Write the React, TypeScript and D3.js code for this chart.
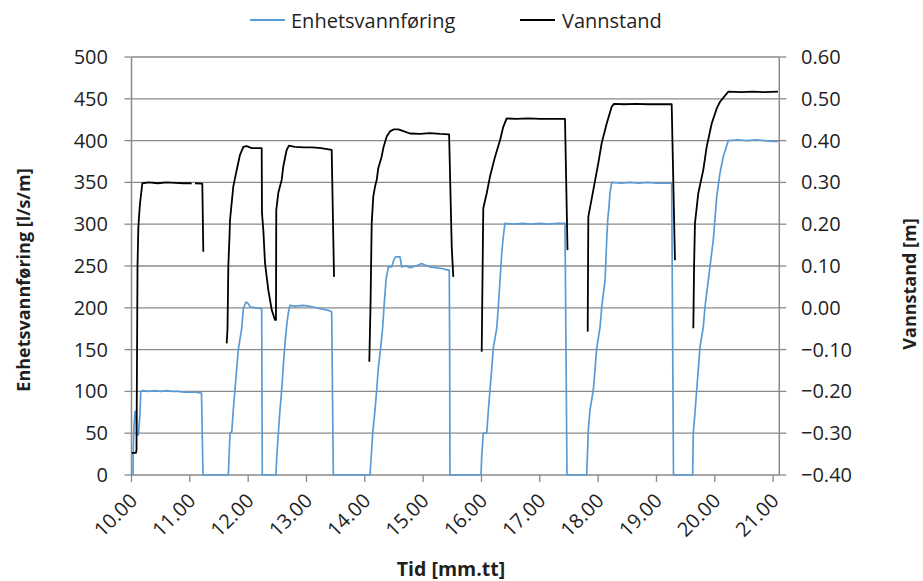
import React from "react";
import * as d3 from "d3";

// Hour tick labels along the time axis
const tickLabels = ["10.00", "11.00", "12.00", "13.00", "14.00", "15.00", "16.00", "17.00", "18.00", "19.00", "20.00", "21.00"];
const leftTicks = [0, 50, 100, 150, 200, 250, 300, 350, 400, 450, 500];
const rightTicks = [-0.4, -0.3, -0.2, -0.1, 0, 0.1, 0.2, 0.3, 0.4, 0.5, 0.6];

// Unit discharge [l/s/m] against time [decimal hours]
const enhetsvannforing: [number, number][] = [
  [10.0, 0], [10.026, 0], [10.031, 33], [10.043, 58], [10.06, 76], [10.077, 76], [10.089, 48], [10.117, 48],
  [10.146, 74], [10.158, 100], [10.2, 101], [10.3, 100], [10.4, 101], [10.5, 100], [10.6, 101], [10.7, 100],
  [10.8, 100], [10.9, 99], [11.0, 99], [11.1, 99], [11.2, 98], [11.226, 0],
  [11.66, 0], [11.689, 50], [11.72, 52], [11.745, 78], [11.774, 102], [11.804, 128], [11.831, 150], [11.889, 175],
  [11.917, 199], [11.963, 207], [12.002, 205], [12.032, 201], [12.13, 200], [12.232, 199], [12.242, 0],
  [12.477, 0], [12.489, 20], [12.517, 50], [12.546, 78], [12.575, 102], [12.602, 130], [12.632, 158], [12.661, 179],
  [12.688, 194], [12.717, 203], [12.8, 202], [12.945, 203], [13.03, 202], [13.117, 201], [13.232, 199], [13.3, 198],
  [13.374, 197], [13.432, 195], [13.46, 0],
  [14.089, 0], [14.135, 50], [14.175, 78], [14.204, 102], [14.231, 128], [14.272, 152], [14.307, 177], [14.329, 201],
  [14.363, 233], [14.403, 249], [14.461, 249], [14.501, 258], [14.535, 261], [14.603, 261], [14.632, 249], [14.7, 250],
  [14.775, 248], [14.877, 250], [14.975, 253], [15.032, 251], [15.12, 249], [15.203, 248], [15.32, 247], [15.431, 245],
  [15.448, 245], [15.455, 140], [15.46, 0],
  [15.992, 0], [16.004, 22], [16.031, 50], [16.09, 50], [16.117, 76], [16.146, 102], [16.175, 126], [16.203, 152],
  [16.261, 175], [16.288, 201], [16.318, 233], [16.347, 265], [16.374, 285], [16.403, 301], [16.55, 300], [16.7, 301],
  [16.85, 300], [17.0, 301], [17.15, 300], [17.3, 301], [17.432, 301], [17.466, 0],
  [17.804, 0], [17.832, 54], [17.861, 78], [17.918, 102], [17.947, 126], [17.976, 152], [18.033, 177], [18.062, 201],
  [18.119, 233], [18.147, 281], [18.164, 305], [18.186, 321], [18.203, 337], [18.232, 350], [18.4, 349], [18.55, 350],
  [18.7, 349], [18.85, 350], [19.0, 349], [19.15, 349], [19.261, 349], [19.292, 0],
  [19.621, 0], [19.631, 50], [19.66, 74], [19.69, 102], [19.717, 126], [19.746, 153], [19.803, 177], [19.832, 201],
  [19.889, 233], [19.974, 281], [20.033, 333], [20.089, 361], [20.146, 381], [20.232, 400], [20.4, 401], [20.55, 400],
  [20.7, 401], [20.85, 400], [21.0, 399], [21.083, 399],
];

// Water level [m] against time [decimal hours]; null marks a break in the record
const vannstand: [number, number | null][] = [
  [10.003, -0.347], [10.077, -0.347], [10.086, -0.34], [10.103, 0.1], [10.117, 0.19], [10.129, 0.218], [10.146, 0.25],
  [10.163, 0.27], [10.185, 0.298], [10.3, 0.3], [10.45, 0.298], [10.6, 0.3], [10.75, 0.299], [10.9, 0.298],
  [11.032, 0.298], [11.06, null], [11.089, 0.298], [11.214, 0.297], [11.231, 0.134], [11.4, null],
  [11.632, -0.085], [11.646, -0.05], [11.66, 0.1], [11.68, 0.17], [11.689, 0.21], [11.745, 0.29], [11.804, 0.33],
  [11.86, 0.366], [11.917, 0.385], [11.975, 0.387], [12.061, 0.382], [12.15, 0.382], [12.232, 0.382], [12.237, 0.227],
  [12.26, 0.186], [12.289, 0.107], [12.345, 0.043], [12.404, -0.005], [12.46, -0.029], [12.477, -0.029],
  [12.482, 0.234], [12.517, 0.275], [12.575, 0.306], [12.602, 0.338], [12.661, 0.378], [12.7, 0.388], [12.8, 0.385],
  [12.95, 0.384], [13.1, 0.384], [13.25, 0.382], [13.432, 0.378], [13.472, 0.074], [13.8, null],
  [14.077, -0.129], [14.097, 0.0], [14.118, 0.202], [14.145, 0.266], [14.175, 0.29], [14.204, 0.306], [14.231, 0.334],
  [14.289, 0.362], [14.317, 0.382], [14.375, 0.41], [14.432, 0.422], [14.5, 0.427], [14.574, 0.427], [14.637, 0.424],
  [14.775, 0.417], [14.946, 0.416], [15.118, 0.418], [15.289, 0.416], [15.445, 0.415], [15.49, 0.146], [15.517, 0.074],
  [15.8, null],
  [16.004, -0.105], [16.02, 0.1], [16.031, 0.238], [16.09, 0.274], [16.146, 0.314], [16.232, 0.361], [16.318, 0.401],
  [16.374, 0.433], [16.432, 0.453], [16.6, 0.452], [16.8, 0.453], [17.0, 0.452], [17.2, 0.452], [17.432, 0.452],
  [17.475, 0.138], [17.65, null],
  [17.821, -0.057], [17.832, 0.218], [17.918, 0.282], [18.003, 0.346], [18.061, 0.394], [18.147, 0.441],
  [18.232, 0.481], [18.272, 0.488], [18.45, 0.487], [18.65, 0.488], [18.85, 0.487], [19.05, 0.487], [19.261, 0.487],
  [19.317, 0.114], [19.45, null],
  [19.632, -0.049], [19.645, 0.1], [19.66, 0.202], [19.717, 0.274], [19.803, 0.33], [19.861, 0.385], [19.947, 0.441],
  [20.033, 0.477], [20.09, 0.493], [20.232, 0.517], [20.45, 0.516], [20.65, 0.517], [20.85, 0.516], [21.083, 0.517],
];

const W = 923;
const H = 581;
const plot = { left: 131.5, right: 779.3, top: 57, bottom: 475 };

const BLUE = "#5b9bd5";
const GRID = "#8a8a8a";
const TEXT = "#1f1f1f";
const FONT = "'Open Sans', 'Noto Sans', sans-serif";

export default function App() {
  const tickHours = tickLabels.map((l) => parseFloat(l));
  const x = d3.scaleLinear().domain([10, 21.106]).range([plot.left, plot.right]);
  const yL = d3.scaleLinear().domain([0, 500]).range([plot.bottom, plot.top]);
  const yR = d3.scaleLinear().domain([-0.4, 0.6]).range([plot.bottom, plot.top]);

  const flowLine = d3
    .line<[number, number]>()
    .x((d) => x(d[0]))
    .y((d) => yL(d[1]));
  const levelLine = d3
    .line<[number, number | null]>()
    .defined((d) => d[1] !== null)
    .x((d) => x(d[0]))
    .y((d) => yR(d[1] as number));

  return (
    <svg
      width={W}
      height={H}
      style={{ position: "absolute", left: 0, top: 0, background: "#fff" }}
      fontFamily={FONT}
    >
      {/* horizontal gridlines */}
      {leftTicks.map((v) => (
        <line key={"g" + v} x1={plot.left} x2={plot.right} y1={yL(v)} y2={yL(v)} stroke={GRID} strokeWidth={1.3} />
      ))}

      {/* left axis */}
      <line x1={plot.left} x2={plot.left} y1={plot.top} y2={plot.bottom} stroke={GRID} strokeWidth={1.5} />
      {leftTicks.map((v) => (
        <g key={"l" + v}>
          <line x1={plot.left - 7} x2={plot.left} y1={yL(v)} y2={yL(v)} stroke={GRID} strokeWidth={1.3} />
          <text x={108} y={yL(v)} dy="0.35em" textAnchor="end" fontSize={20} fill={TEXT}>
            {v}
          </text>
        </g>
      ))}

      {/* right axis */}
      <line x1={plot.right} x2={plot.right} y1={plot.top} y2={plot.bottom} stroke={GRID} strokeWidth={1.5} />
      {rightTicks.map((v) => (
        <g key={"r" + v}>
          <line x1={plot.right} x2={plot.right + 7} y1={yR(v)} y2={yR(v)} stroke={GRID} strokeWidth={1.3} />
          <text x={801} y={yR(v)} dy="0.35em" textAnchor="start" fontSize={20} fill={TEXT}>
            {d3.format(".2f")(v)}
          </text>
        </g>
      ))}

      {/* bottom axis ticks and rotated labels */}
      {tickHours.map((h, i) => (
        <g key={"b" + h}>
          <line x1={x(h)} x2={x(h)} y1={plot.bottom} y2={plot.bottom + 7} stroke={GRID} strokeWidth={1.3} />
          <text
            transform={`translate(${x(h) + 7},${plot.bottom + 27}) rotate(-45)`}
            textAnchor="end"
            fontSize={20}
            fill={TEXT}
          >
            {tickLabels[i]}
          </text>
        </g>
      ))}

      {/* series */}
      <path d={flowLine(enhetsvannforing) ?? ""} fill="none" stroke={BLUE} strokeWidth={1.7} strokeLinejoin="round" />
      <path d={levelLine(vannstand) ?? ""} fill="none" stroke="#000" strokeWidth={1.8} strokeLinejoin="round" />

      {/* axis titles */}
      <text
        transform={`translate(30,${(plot.top + plot.bottom) / 2 + 14}) rotate(-90)`}
        textAnchor="middle"
        fontSize={18}
        fontWeight="bold"
        fill={TEXT}
      >
        Enhetsvannføring [l/s/m]
      </text>
      <text
        transform={`translate(916,${(plot.top + plot.bottom) / 2 + 18}) rotate(-90)`}
        textAnchor="middle"
        fontSize={18}
        fontWeight="bold"
        fill={TEXT}
      >
        Vannstand [m]
      </text>
      <text x={451} y={576} textAnchor="middle" fontSize={19.5} fontWeight="bold" fill={TEXT}>
        Tid [mm.tt]
      </text>

      {/* legend */}
      <line x1={250} x2={285} y1={20} y2={20} stroke={BLUE} strokeWidth={2} />
      <text x={291} y={28} fontSize={20} fill={TEXT}>
        Enhetsvannføring
      </text>
      <line x1={520} x2={555} y1={20} y2={20} stroke="#000" strokeWidth={1.8} />
      <text x={562} y={28} fontSize={20} fill={TEXT}>
        Vannstand
      </text>
    </svg>
  );
}
